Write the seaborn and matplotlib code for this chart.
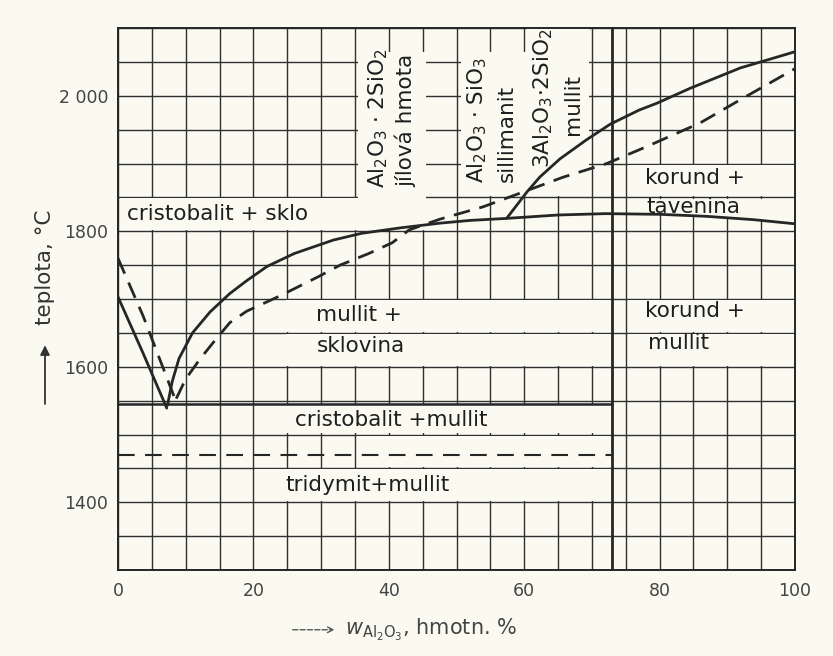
import numpy as np
import pandas as pd
import matplotlib.pyplot as plt
import seaborn as sns
from matplotlib.patches import Rectangle
from matplotlib.ticker import MultipleLocator

# phase diagram SiO2 - Al2O3
# cristobalite liquidus (solid line)
sio2_liq_x = [0, 3.7, 7.2]
sio2_liq_t = [1703, 1620, 1539]

# mullite liquidus + solidus line (solid)
mul_liq_x = [7.3, 8, 9, 11, 13.6, 16.5, 19, 22, 26, 31.8, 36, 41.7, 47.6, 52, 57.4, 65, 72, 80, 87, 94, 100]
mul_liq_t = [1543, 1578, 1612, 1650, 1681, 1708, 1727, 1748, 1767, 1787, 1797, 1805, 1812, 1816, 1819, 1824, 1826, 1825, 1822, 1817, 1811]

# corundum liquidus (solid)
cor_liq_x = [57.4, 60.4, 62.3, 65.3, 69.2, 72.7, 77, 79.6, 84.5, 91.9, 100]
cor_liq_t = [1819, 1858, 1880, 1907, 1935, 1958, 1979, 1989, 2011, 2041, 2065]

# older version of the diagram (dashed)
dash_left_x = [0, 3.7, 8.4]
dash_left_t = [1760, 1675, 1553]
dash_right_x = [8.6, 10, 12, 14, 16.5, 19, 24, 29.6, 32.8, 37, 40.5, 43, 47.6, 53.9, 60.4, 65.8, 72.2, 78.1, 86, 91.9, 100]
dash_right_t = [1553, 1582, 1610, 1635, 1665, 1682, 1705, 1733, 1750, 1767, 1783, 1802, 1818, 1836, 1860, 1880, 1900, 1925, 1960, 1994, 2040]

# horizontal lines
eutectic_x = [0, 73]
eutectic_t = [1545, 1545]
tridymit_x = [0, 73]
tridymit_t = [1470, 1470]
mullit_comp = 73

y_ticks = [1400, 1600, 1800, 2000]
y_labels = ["1400", "1600", "1800", "2 000"]
x_ticks = [0, 20, 40, 60, 80, 100]

paper = "#fbfaf0"
ink = "#262626"

sns.set_style("white")
plt.rcParams["font.family"] = ["DejaVu Sans"]
plt.rcParams["mathtext.fontset"] = "dejavusans"

fig = plt.figure(figsize=(8.33, 6.56), dpi=100, facecolor=paper)
ax = fig.add_axes([0.1417, 0.1311, 0.8127, 0.8262])
ax.set_facecolor(paper)
ax.set_xlim(0, 100)
ax.set_ylim(1300, 2100)

# grid every 5 % and 50 C
ax.set_xticks(x_ticks)
ax.set_yticks(y_ticks)
ax.set_yticklabels(y_labels)
ax.xaxis.set_minor_locator(MultipleLocator(5))
ax.yaxis.set_minor_locator(MultipleLocator(50))
ax.set_axisbelow(True)
ax.grid(which="both", color="#303030", lw=1.0)
ax.tick_params(which="both", length=0)
ax.tick_params(axis="x", pad=9, labelsize=12.5, labelcolor="#444444")
ax.tick_params(axis="y", pad=7, labelsize=12.5, labelcolor="#444444")
for s in ax.spines.values():
    s.set_color(ink)
    s.set_linewidth(1.4)

# white label boxes that hide the grid
boxes = [
    (0.3, 45.5, 1801.5, 1848.5),
    (35.4, 45.5, 1801.5, 2065),
    (50.6, 60.4, 1851.5, 2065),
    (60.4, 69.5, 1851.5, 2100),
    (75.3, 100, 1851.5, 1898.5),
    (24.8, 72.9, 1651.5, 1698.5),
    (24.8, 72.9, 1601.5, 1648.5),
    (75.3, 100, 1651.5, 1698.5),
    (75.3, 100, 1601.5, 1648.5),
    (24.8, 72.9, 1501.5, 1543),
    (35.3, 72.9, 1451.5, 1498.5),
    (20.3, 72.9, 1401.5, 1448.5),
]
for x0, x1, y0, y1 in boxes:
    ax.add_patch(Rectangle((x0, y0), x1 - x0, y1 - y0, facecolor=paper, edgecolor="none", zorder=1))
xs = np.linspace(75.3, 100, 30)
ax.fill_between(xs, np.interp(xs, mul_liq_x, mul_liq_t) + 2, 1848.5, color=paper, lw=0, zorder=1)

# curves
solid = dict(color=ink, lw=2.0, zorder=3, ax=ax, sort=False, estimator=None)
sns.lineplot(x=sio2_liq_x, y=sio2_liq_t, **solid)
sns.lineplot(x=mul_liq_x, y=mul_liq_t, **solid)
sns.lineplot(x=cor_liq_x, y=cor_liq_t, **solid)
sns.lineplot(x=eutectic_x, y=eutectic_t, color=ink, lw=1.8, zorder=3, ax=ax, sort=False, estimator=None)
dashed = dict(color=ink, lw=2.0, zorder=3, ax=ax, sort=False, estimator=None, linestyle=(0, (6, 3.5)))
sns.lineplot(x=dash_left_x, y=dash_left_t, **dashed)
sns.lineplot(x=dash_right_x, y=dash_right_t, **dashed)
sns.lineplot(x=tridymit_x, y=tridymit_t, color=ink, lw=1.5, zorder=3, ax=ax, sort=False,
             estimator=None, linestyle=(0, (8, 5)))
ax.axvline(mullit_comp, color=ink, lw=2.0, zorder=3)

# region labels
tkw = dict(fontsize=15.5, color="#1e1e1e", zorder=4)
ax.text(1.3, 1825, "cristobalit + sklo", ha="left", va="center", **tkw)
ax.text(29.3, 1676, "mullit +", ha="left", va="center", **tkw)
ax.text(29.3, 1630, "sklovina", ha="left", va="center", **tkw)
ax.text(77.8, 1878, "korund +", ha="left", va="center", **tkw)
ax.text(78.0, 1836, "tavenina", ha="left", va="center", **tkw)
ax.text(77.8, 1682, "korund +", ha="left", va="center", **tkw)
ax.text(78.3, 1635, "mullit", ha="left", va="center", **tkw)
ax.text(26.1, 1521, "cristobalit +mullit", ha="left", va="center", **tkw)
ax.text(24.7, 1426, "tridymit+mullit", ha="left", va="center", **tkw)

ax.text(38.4, 1967, r"Al$_2$O$_3$ · 2SiO$_2$", rotation=90, ha="center", va="center", **tkw)
ax.text(42.5, 1963, "jílová hmota", rotation=90, ha="center", va="center", **tkw)
ax.text(53.0, 1964, r"Al$_2$O$_3$ · SiO$_3$", rotation=90, ha="center", va="center", **tkw)
ax.text(57.4, 1944, "sillimanit", rotation=90, ha="center", va="center", **tkw)
ax.text(62.8, 1996, r"3Al$_2$O$_3$·2SiO$_2$", rotation=90, ha="center", va="center", **tkw)
ax.text(67.2, 1987, "mullit", rotation=90, ha="center", va="center", **tkw)

# axis labels with arrows
fig.text(0.054, 0.592, "teplota, °C", rotation=90, ha="center", va="center", fontsize=15.5, color="#333333")
ax.annotate("", xy=(0.054, 0.478), xytext=(0.054, 0.38), xycoords="figure fraction",
            textcoords="figure fraction",
            arrowprops=dict(arrowstyle="-|>", color="#333333", lw=1.3, mutation_scale=14))
fig.text(0.414, 0.04, r"$w_{\mathrm{Al_2O_3}}$, hmotn. %", ha="left", va="center", fontsize=15, color="#444444")
ax.annotate("", xy=(0.405, 0.04), xytext=(0.348, 0.04), xycoords="figure fraction",
            textcoords="figure fraction",
            arrowprops=dict(arrowstyle="->", color="#555555", lw=1.0, linestyle="--"))

ax.set_xlabel("")
ax.set_ylabel("")
fig.savefig("out.png", dpi=100, facecolor=fig.get_facecolor())
